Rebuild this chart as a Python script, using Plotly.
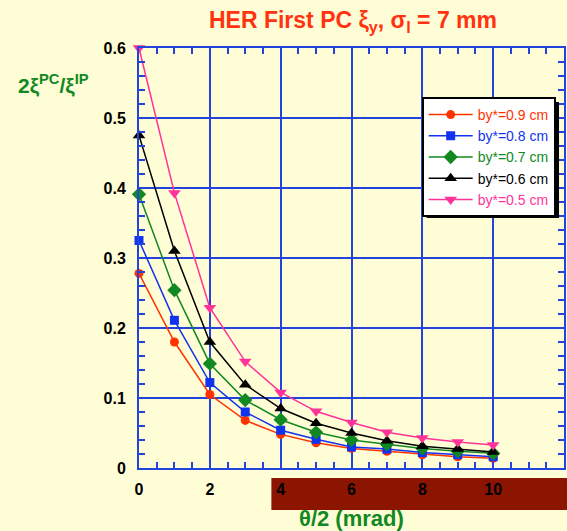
import plotly.graph_objects as go

theta = [0, 1, 2, 3, 4, 5, 6, 7, 8, 9, 10]
by09 = [0.278, 0.180, 0.105, 0.068, 0.048, 0.036, 0.028, 0.024, 0.019, 0.016, 0.014]
by08 = [0.325, 0.211, 0.122, 0.080, 0.054, 0.041, 0.030, 0.027, 0.022, 0.019, 0.016]
by07 = [0.391, 0.254, 0.149, 0.097, 0.069, 0.051, 0.040, 0.034, 0.028, 0.024, 0.021]
by06 = [0.475, 0.310, 0.180, 0.119, 0.085, 0.064, 0.050, 0.039, 0.031, 0.027, 0.023]
by05 = [0.600, 0.393, 0.229, 0.152, 0.108, 0.081, 0.065, 0.051, 0.043, 0.037, 0.033]

series = [
    ("by*=0.9 cm", by09, "#FF3300", "circle", 9),
    ("by*=0.8 cm", by08, "#1133EE", "square", 9),
    ("by*=0.7 cm", by07, "#118822", "diamond", 11),
    ("by*=0.6 cm", by06, "#000000", "triangle-up", 11),
    ("by*=0.5 cm", by05, "#FF3399", "triangle-down", 11),
]

BG = "#FFFDD6"
AX = "#2244DD"
FONT = "Liberation Sans, Arial, sans-serif"

fig = go.Figure()
for name, vals, col, sym, sz in series:
    fig.add_trace(go.Scatter(
        x=theta, y=vals, mode="lines+markers",
        name=f'<span style="color:{col}">{name}</span>',
        line=dict(color=col, width=1.5),
        marker=dict(symbol=sym, size=sz, color=col),
        cliponaxis=False,
    ))

W, H = 567, 531
L, R, T, B = 139, 1, 48, 63
pw, ph = W - L - R, H - T - B

def px_x(p):
    return (p - L) / pw

def px_y(p):
    return (H - B - p) / ph

fig.update_layout(
    width=W, height=H,
    margin=dict(l=L, r=R, t=T, b=B),
    paper_bgcolor=BG, plot_bgcolor=BG,
    font=dict(family=FONT, color="black"),
    title=dict(
        text="HER First PC ξ<sub>y</sub>, σ<sub>l</sub> = 7 mm",
        x=353 / W, xref="container", xanchor="center",
        y=1 - 20 / H, yref="container", yanchor="middle",
        font=dict(size=23, color="#FF3311", family=FONT, weight="bold"),
    ),
    showlegend=True,
    legend=dict(
        x=px_x(423), y=px_y(97), xanchor="left", yanchor="top",
        bgcolor="white", bordercolor="black", borderwidth=2,
        font=dict(size=14, family=FONT),
        itemwidth=44,
        tracegroupgap=0,
    ),
    shapes=[
        dict(type="rect", xref="paper", yref="paper",
             x0=px_x(272), x1=px_x(572), y0=px_y(478), y1=px_y(510),
             fillcolor="#8B1500", line=dict(width=0), layer="below"),
        dict(type="rect", xref="paper", yref="paper",
             x0=px_x(428), x1=px_x(561), y0=px_y(102), y1=px_y(218),
             fillcolor="black", line=dict(width=0), layer="above"),
    ],
    annotations=[
        dict(text="<b>2ξ<sup>PC</sup>/ξ<sup>IP</sup></b>", xref="paper", yref="paper",
             x=px_x(15), y=px_y(84), xanchor="left", yanchor="middle",
             showarrow=False, font=dict(size=21, color="#118822", family=FONT)),
        dict(text="<b>θ/2 (mrad)</b>", xref="paper", yref="paper",
             x=px_x(352), y=px_y(518), xanchor="center", yanchor="middle",
             showarrow=False, font=dict(size=22, color="#118822", family=FONT)),
    ],
)

fig.update_xaxes(
    range=[0, 12], dtick=2, tick0=0,
    showline=True, linecolor=AX, linewidth=2, mirror="allticks",
    ticks="inside", ticklen=6, tickcolor=AX, tickwidth=1.5,
    showgrid=True, gridcolor=AX, gridwidth=1.5, zeroline=False,
    minor=dict(dtick=0.5, ticks="inside", ticklen=6, tickcolor=AX, tickwidth=1.5, showgrid=False),
    tickfont=dict(size=16, family=FONT, color="black", weight="bold"),
    ticklabelstandoff=6,
)
fig.update_yaxes(
    range=[0, 0.6], dtick=0.1, tick0=0,
    showline=True, linecolor=AX, linewidth=2, mirror="allticks",
    ticks="inside", ticklen=6, tickcolor=AX, tickwidth=1.5,
    showgrid=True, gridcolor=AX, gridwidth=1.5, zeroline=False,
    minor=dict(dtick=0.02, ticks="inside", ticklen=6, tickcolor=AX, tickwidth=1.5, showgrid=False),
    tickfont=dict(size=16, family=FONT, color="black", weight="bold"),
    ticklabelstandoff=8,
)

fig.write_html("out.html")
